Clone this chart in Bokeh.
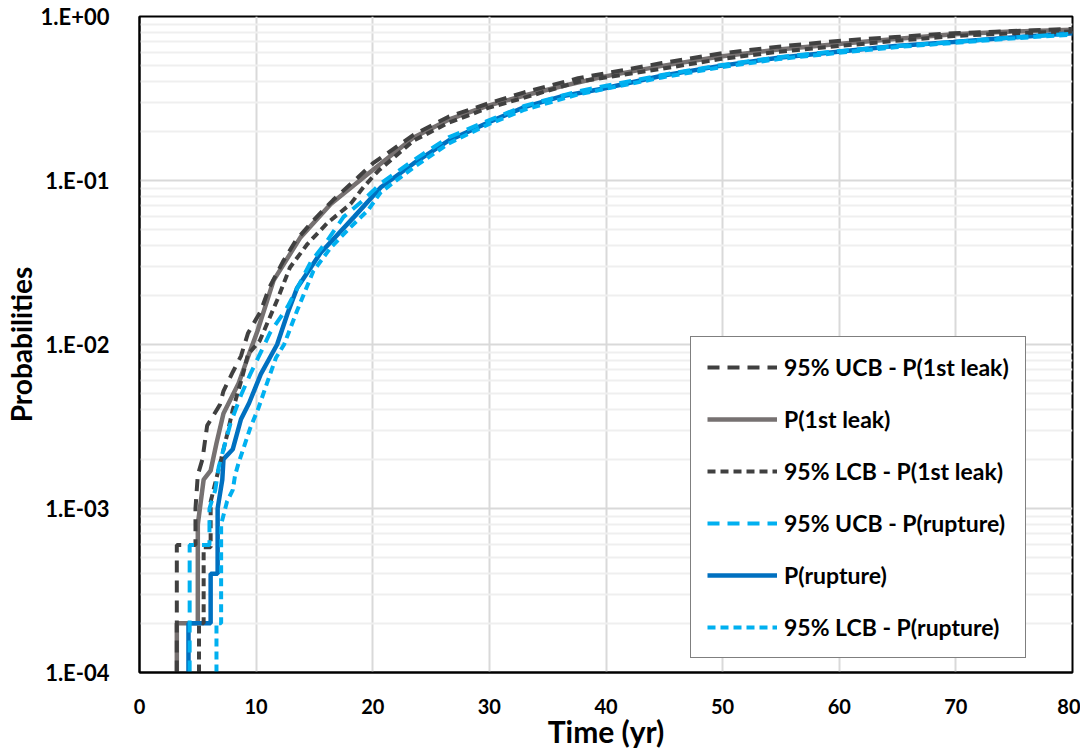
from bokeh.plotting import figure
from bokeh.models import Range1d, FixedTicker, CustomJSTickFormatter, Legend, LegendItem
from bokeh.embed import file_html
from bokeh.resources import INLINE

# ---- data ----
leak_ucb_t = [3.2, 3.2, 4.8, 4.8, 5.0, 5.4, 5.8, 6.9, 7.2, 8.0, 8.7, 9.3, 10.4, 11.1, 12.3, 13.4, 14.9,
              16.6, 18.7, 20.0, 23.5, 26.5, 29.9, 33.0, 37.6, 44.8, 49.8, 54.8, 59.9, 64.8, 69.8, 74.8, 80.0]
leak_ucb_p = [1e-4, 6e-4, 6e-4, 1.0e-3, 1.6e-3, 2.0e-3, 3.2e-3, 4.3e-3, 5.2e-3, 6.8e-3, 8.5e-3, 1.17e-2, 1.6e-2,
              2.2e-2, 3.2e-2, 4.3e-2, 5.7e-2, 7.6e-2, 0.104, 0.127, 0.19, 0.245, 0.295, 0.345, 0.42,
              0.52, 0.595, 0.655, 0.71, 0.75, 0.79, 0.815, 0.84]

leak_t = [3.2, 3.2, 5.0, 5.0, 5.5, 6.1, 6.6, 7.2, 8.5, 9.5, 10.1, 11.5, 13.8, 16.4, 19.6, 23.5, 26.5,
          29.9, 33.0, 36.1, 39.8, 44.8, 49.8, 54.8, 59.9, 64.8, 69.8, 74.8, 80.0]
leak_p = [1e-4, 2e-4, 2e-4, 8e-4, 1.5e-3, 1.7e-3, 2.5e-3, 3.8e-3, 5.8e-3, 9.2e-3, 1.2e-2, 2.46e-2,
          4.5e-2, 7.2e-2, 0.11, 0.183, 0.235, 0.286, 0.33, 0.374, 0.43, 0.50, 0.57, 0.63, 0.68,
          0.73, 0.78, 0.81, 0.83]

leak_lcb_t = [5.1, 5.1, 5.5, 5.5, 6.1, 6.1, 7.0, 7.5, 8.0, 8.8, 9.3, 10.3, 11.8, 12.9, 14.4, 16.1,
              18.1, 19.2, 20.5, 23.5, 26.5, 29.9, 33.0, 37.6, 44.8, 49.8, 54.8, 59.9, 64.8, 69.8, 74.8, 80.0]
leak_lcb_p = [1e-4, 2e-4, 2e-4, 5.8e-4, 5.8e-4, 1.1e-3, 2.0e-3, 2.8e-3, 4.0e-3, 6.3e-3, 8.7e-3, 1.05e-2,
              1.86e-2, 2.95e-2, 4.1e-2, 5.5e-2, 7.2e-2, 9.1e-2, 0.115, 0.175, 0.225, 0.277, 0.32,
              0.40, 0.48, 0.55, 0.61, 0.66, 0.71, 0.76, 0.79, 0.81]

rup_ucb_t = [4.3, 4.3, 6.0, 6.0, 6.5, 6.8, 7.8, 8.7, 9.5, 11.2, 12.7, 14.7, 16.1, 17.5, 19.2, 20.7,
             23.5, 26.5, 29.9, 33.0, 37.6, 44.8, 49.8, 54.8, 59.9, 64.8, 69.8, 74.8, 80.0]
rup_ucb_p = [1e-4, 6e-4, 6e-4, 1.0e-3, 1.3e-3, 1.8e-3, 3.3e-3, 4.9e-3, 6.6e-3, 1.18e-2, 1.7e-2,
             3.2e-2, 4.3e-2, 6.0e-2, 7.6e-2, 9.6e-2, 0.133, 0.183, 0.232, 0.285, 0.35, 0.44, 0.505,
             0.565, 0.615, 0.66, 0.70, 0.745, 0.785]

rup_t = [4.2, 4.2, 6.1, 6.1, 6.7, 6.7, 7.1, 7.2, 8.0, 8.7, 9.4, 10.4, 11.8, 12.7, 13.5, 15.5, 18.4,
         20.7, 23.5, 26.5, 29.9, 33.0, 36.1, 39.8, 44.8, 49.8, 54.8, 59.9, 64.8, 69.8, 74.8, 80.0]
rup_p = [1e-4, 2e-4, 2e-4, 4e-4, 4e-4, 1.0e-3, 1.5e-3, 2.0e-3, 2.3e-3, 3.5e-3, 4.4e-3, 6.6e-3,
         1.0e-2, 1.55e-2, 2.2e-2, 3.6e-2, 6.0e-2, 9.1e-2, 0.127, 0.175, 0.226, 0.28, 0.325, 0.364,
         0.435, 0.50, 0.56, 0.61, 0.66, 0.70, 0.745, 0.79]

rup_lcb_t = [6.6, 6.6, 7.0, 7.0, 7.5, 8.0, 8.2, 8.5, 8.8, 9.5, 10.2, 11.0, 11.7, 12.4, 13.5, 14.9,
             16.4, 18.1, 19.6, 20.7, 23.5, 26.5, 29.9, 33.0, 37.6, 44.8, 49.8, 54.8, 59.9, 64.8,
             69.8, 74.8, 80.0]
rup_lcb_p = [1e-4, 2e-4, 2e-4, 8e-4, 1.1e-3, 1.3e-3, 1.6e-3, 1.9e-3, 2.2e-3, 3.1e-3, 4.1e-3,
             6.0e-3, 8.3e-3, 1.0e-2, 1.6e-2, 2.8e-2, 3.9e-2, 5.2e-2, 6.6e-2, 8.5e-2, 0.12, 0.168,
             0.22, 0.27, 0.335, 0.425, 0.49, 0.55, 0.60, 0.65, 0.69, 0.735, 0.775]

series_labels = ["95% UCB - P(1st leak)", "P(1st leak)", "95% LCB - P(1st leak)",
                 "95% UCB - P(rupture)", "P(rupture)", "95% LCB - P(rupture)"]

x_ticks = [0, 10, 20, 30, 40, 50, 60, 70, 80]
y_tick_values = [1e-4, 1e-3, 1e-2, 1e-1, 1.0]
y_tick_labels = ["1.E-04", "1.E-03", "1.E-02", "1.E-01", "1.E+00"]
y_minor_values = [m * d for d in [1e-4, 1e-3, 1e-2, 1e-1] for m in range(2, 10)]

FONT = "Lato"

p = figure(frame_width=933, frame_height=656,
           x_range=Range1d(0, 80), y_range=Range1d(1e-4, 1.0), y_axis_type="log",
           output_backend="svg", toolbar_location=None,
           min_border_left=131, min_border_right=8, min_border_top=16, min_border_bottom=68,
           background_fill_color="white", border_fill_color="white")

p.outline_line_color = "black"
p.outline_line_width = 2

# axes
p.xaxis.ticker = FixedTicker(ticks=x_ticks)
yt = FixedTicker(ticks=y_tick_values, minor_ticks=y_minor_values)
p.yaxis.ticker = yt
p.ygrid.ticker = yt
p.xgrid.ticker = FixedTicker(ticks=x_ticks)
p.yaxis.formatter = CustomJSTickFormatter(args=dict(vals=y_tick_values, labs=y_tick_labels), code="""
    for (let i = 0; i < vals.length; i++) {
        if (Math.abs(Math.log10(vals[i]) - Math.log10(tick)) < 1e-6) return labs[i];
    }
    return "";
""")

for ax in [p.xaxis[0], p.yaxis[0]]:
    ax.axis_line_color = "black"
    ax.axis_line_width = 2
    ax.major_tick_line_color = None
    ax.minor_tick_line_color = None
    ax.major_label_text_font = FONT
    ax.major_label_text_font_style = "bold"
    ax.major_label_text_color = "black"
    ax.axis_label_text_font = FONT
    ax.axis_label_text_font_style = "bold"
    ax.axis_label_text_color = "black"

p.yaxis.major_label_text_font_size = "22px"
p.xaxis.major_label_text_font_size = "20px"
p.yaxis.major_label_standoff = 24
p.xaxis.major_label_standoff = 20
p.yaxis.axis_label = "Probabilities"
p.xaxis.axis_label = "Time (yr)"
p.yaxis.axis_label_text_font_size = "28px"
p.xaxis.axis_label_text_font_size = "30px"
p.yaxis.axis_label_standoff = 0
p.xaxis.axis_label_standoff = -4

p.xgrid.grid_line_color = "#D9D9D9"
p.xgrid.grid_line_width = 2
p.ygrid.grid_line_color = "#D9D9D9"
p.ygrid.grid_line_width = 2
p.ygrid.minor_grid_line_color = "#EFEFEF"
p.ygrid.minor_grid_line_width = 2

GREY = "#767171"
DARK = "#404040"
LBLUE = "#00B0F0"
BLUE = "#0070C0"

r_leak = p.line(leak_t, leak_p, line_color=GREY, line_width=4.5)
r_rup = p.line(rup_t, rup_p, line_color=BLUE, line_width=4.5)
r_leak_ucb = p.line(leak_ucb_t, leak_ucb_p, line_color=DARK, line_width=4, line_dash="12 8")
r_leak_lcb = p.line(leak_lcb_t, leak_lcb_p, line_color=DARK, line_width=4, line_dash="8 5")
r_rup_ucb = p.line(rup_ucb_t, rup_ucb_p, line_color=LBLUE, line_width=4, line_dash="12 8")
r_rup_lcb = p.line(rup_lcb_t, rup_lcb_p, line_color=LBLUE, line_width=4, line_dash="8 5")

rends = [r_leak_ucb, r_leak, r_leak_lcb, r_rup_ucb, r_rup, r_rup_lcb]
items = [LegendItem(label=lab, renderers=[r]) for lab, r in zip(series_labels, rends)]
legend = Legend(items=items, location=(551, 14),
                border_line_color="black", border_line_width=1.5,
                background_fill_color="white", background_fill_alpha=1.0,
                label_text_font=FONT, label_text_font_style="bold", label_text_font_size="23px",
                label_text_color="black",
                glyph_width=70, glyph_height=20, label_height=20, label_standoff=7,
                spacing=24, padding=16, margin=0)
p.add_layout(legend)

open("out.html", "w").write(file_html(p, INLINE))
